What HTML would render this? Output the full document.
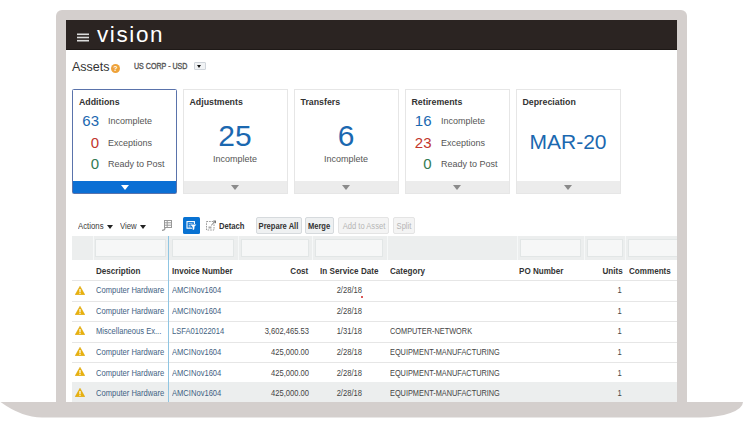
<!DOCTYPE html>
<html><head><meta charset="utf-8">
<style>
*{margin:0;padding:0;box-sizing:border-box}
html,body{width:743px;height:427px;overflow:hidden;background:#fff}
body{position:relative;font-family:"Liberation Sans",sans-serif;color:#444}
.a{position:absolute;white-space:nowrap}
#frame{position:absolute;left:56px;top:10px;width:631px;height:393px;background:#d4cfcd;border-radius:6px 6px 0 0}
#screen{position:absolute;left:66px;top:20px;width:611px;height:382px;background:#fff;overflow:hidden}
#hdr{position:absolute;left:0;top:0;width:611px;height:30px;background:#2b2422;border-bottom:1px solid #1e1917}
.card{position:absolute;top:69px;width:105px;height:105px;border:1px solid #e6e6e6;background:#fff}
.card .bar{position:absolute;left:0;right:0;bottom:0;height:12px;background:#ececec}
.card .tri{position:absolute;left:50%;bottom:3px;margin-left:-4px;width:0;height:0;border-left:4px solid transparent;border-right:4px solid transparent;border-top:5px solid #8a8a8a}
.card.sel{border-color:#5a73ab;border-radius:1.5px}
.card.sel .bar{background:#0b6fd4}
.card.sel .tri{border-top-color:#fff}
.ct{position:absolute;left:6px;top:7px;font-weight:bold;font-size:8.8px;color:#333}
.bn{position:absolute;font-size:15px;text-align:right}
.bl{position:absolute;font-size:9px;color:#555;margin-top:1px}
.blue{color:#1b68b0}.red{color:#c2362c}.green{color:#337a52}
.th{position:absolute;top:245.8px;font-weight:bold;font-size:8.7px;color:#333;line-height:10px;transform:scaleX(0.93);transform-origin:0 0}
.th.r{transform-origin:100% 0}
.td{position:absolute;font-size:8.4px;color:#444;line-height:10px;white-space:nowrap}
.L{transform:scaleX(0.905);transform-origin:0 0}
.R{transform:scaleX(0.905);transform-origin:100% 0}
.cat{font-size:8.6px;transform:scaleX(0.855)}
.dsc{color:#3f6283}
.btn{position:absolute;top:197px;height:17px;border:1px solid #d6dadd;background:#eff1f2;border-radius:2px;font-size:8.2px;font-weight:bold;color:#333;text-align:center;line-height:16px}
.btn span{display:inline-block;transform:scaleX(0.925);position:relative;top:0.8px}
.btn.dis{color:#b5b5b5;background:#f4f4f4;border-color:#e4e4e4;font-weight:normal}
.fi{position:absolute;top:219px;height:18px;background:#f6f7f7;border:1px solid #e2e6e6}
.hl{position:absolute;left:6px;width:605px;height:1px;background:#e6e6e6}
</style></head><body>
<div id="frame"></div>
<svg class="a" style="left:0;top:0" width="743" height="427"><path d="M0.5,402 L743,402 A43,15.5 0 0 1 700,417.5 L42,417.5 Q22,417.5 0.5,402 Z" fill="#d4cfcd"/></svg>
<div id="screen">
  <div id="hdr">
    <svg class="a" style="left:11px;top:12.5px" width="12" height="9"><rect x="0" y="0.5" width="12" height="1.6" fill="#ddd"/><rect x="0" y="3.7" width="12" height="1.6" fill="#ddd"/><rect x="0" y="6.9" width="12" height="1.6" fill="#ddd"/></svg>
    <div class="a" style="left:31px;top:1.5px;font-size:22.5px;letter-spacing:1.6px;color:#fff;line-height:26px">vision</div>
  </div>
  <div class="a" style="left:6px;top:38.5px;font-size:12.5px;color:#333;line-height:16px">Assets</div>
  <div class="a" style="left:44.7px;top:44.2px;width:9.3px;height:9.3px;border-radius:50%;background:#eea23a;color:#fff;font-size:7px;font-weight:bold;text-align:center;line-height:9.5px">?</div>
  <div class="a" style="left:67.5px;top:41.3px;font-size:8.3px;font-weight:normal;-webkit-text-stroke:0.35px #555;color:#555;line-height:10px;transform:scaleX(0.855);transform-origin:0 0">US CORP - USD</div>
  <div class="a" style="left:127.5px;top:41.5px;width:12px;height:8.5px;border:1px solid #cfd4da;background:#f1f3f5;border-radius:1px"><div style="position:absolute;left:2.5px;top:2px;width:0;height:0;border-left:2.5px solid transparent;border-right:2.5px solid transparent;border-top:3.5px solid #111"></div></div>

  <!-- cards -->
  <div class="card sel" style="left:6px">
    <div class="ct">Additions</div>
    <div class="bn blue" style="right:77px;top:22px">63</div><div class="bl" style="left:35px;top:25px">Incomplete</div>
    <div class="bn red" style="right:77px;top:44px">0</div><div class="bl" style="left:35px;top:47px">Exceptions</div>
    <div class="bn green" style="right:77px;top:65px">0</div><div class="bl" style="left:35px;top:68px">Ready to Post</div>
    <div class="bar"><div class="tri"></div></div>
  </div>
  <div class="card" style="left:116.5px">
    <div class="ct">Adjustments</div>
    <div class="a blue" style="left:0;right:0;top:29px;text-align:center;font-size:30px;line-height:34px">25</div>
    <div class="a" style="left:0;right:0;top:64px;text-align:center;font-size:9px;color:#555">Incomplete</div>
    <div class="bar"><div class="tri"></div></div>
  </div>
  <div class="card" style="left:227.5px">
    <div class="ct">Transfers</div>
    <div class="a blue" style="left:0;right:0;top:29px;text-align:center;font-size:30px;line-height:34px">6</div>
    <div class="a" style="left:0;right:0;top:64px;text-align:center;font-size:9px;color:#555">Incomplete</div>
    <div class="bar"><div class="tri"></div></div>
  </div>
  <div class="card" style="left:338.5px">
    <div class="ct">Retirements</div>
    <div class="bn blue" style="right:77px;top:22px">16</div><div class="bl" style="left:35.5px;top:25px">Incomplete</div>
    <div class="bn red" style="right:77px;top:44px">23</div><div class="bl" style="left:35.5px;top:47px">Exceptions</div>
    <div class="bn green" style="right:77px;top:65px">0</div><div class="bl" style="left:35.5px;top:68px">Ready to Post</div>
    <div class="bar"><div class="tri"></div></div>
  </div>
  <div class="card" style="left:449.5px">
    <div class="ct">Depreciation</div>
    <div class="a blue" style="left:0;right:0;top:40px;text-align:center;font-size:21px;line-height:24px">MAR-20</div>
    <div class="bar"><div class="tri"></div></div>
  </div>

  <!-- toolbar -->
  <div class="a" style="left:12px;top:200.6px;font-size:8.4px;color:#3a3a3a;line-height:10px;transform:scaleX(0.93);transform-origin:0 0">Actions</div>
  <div class="a" style="left:41px;top:205px;width:0;height:0;border-left:3px solid transparent;border-right:3px solid transparent;border-top:4px solid #222"></div>
  <div class="a" style="left:54px;top:200.6px;font-size:8.4px;color:#3a3a3a;line-height:10px;transform:scaleX(0.93);transform-origin:0 0">View</div>
  <div class="a" style="left:73.5px;top:205px;width:0;height:0;border-left:3px solid transparent;border-right:3px solid transparent;border-top:4px solid #222"></div>
  <svg class="a" style="left:95px;top:200px" width="11" height="11"><g fill="none" stroke="#999" stroke-width="1"><rect x="3.5" y="0.5" width="7" height="7"/><line x1="3.5" y1="2.8" x2="10.5" y2="2.8"/><line x1="3.5" y1="5.2" x2="10.5" y2="5.2"/><line x1="6.2" y1="0.5" x2="6.2" y2="7.5"/><path d="M4,8 Q4,10.3 1,10.3" stroke-width="1.2"/></g></svg>
  <svg class="a" style="left:117px;top:197px" width="17" height="17"><rect x="0" y="0" width="17" height="17" rx="1.5" fill="#0872d2"/><rect x="4" y="4.6" width="7.4" height="6.6" fill="none" stroke="#fff" stroke-width="1.1"/><path d="M5.6,6.8 H9.6 M5.6,8.6 H7.6 M5.6,10 H7.6" stroke="#fff" stroke-width="0.7" fill="none"/><path d="M6.6,7 H14.2 L11.6,10 V13.2 L9.2,13.2 V10 Z" fill="#0872d2"/><path d="M7.3,7.5 H13.4 L11.1,9.9 V12.7 L9.7,12.7 V9.9 Z" fill="#fff"/></svg>
  <svg class="a" style="left:140px;top:200px" width="11" height="11"><rect x="0.5" y="1.5" width="7.5" height="8.5" fill="none" stroke="#9a9a9a" stroke-width="1" stroke-dasharray="1.6 1"/><path d="M5.2,5.3 L9.5,1 M7.3,1 H9.5 V3.2" fill="none" stroke="#666" stroke-width="0.9"/><rect x="2.5" y="6.5" width="3" height="2" fill="#aaa"/></svg>
  <div class="a" style="left:153px;top:200.8px;font-size:8.4px;font-weight:bold;color:#333;line-height:10px;transform:scaleX(0.915);transform-origin:0 0">Detach</div>
  <div class="btn" style="left:190px;width:45.5px"><span>Prepare All</span></div>
  <div class="btn" style="left:239px;width:28.5px"><span>Merge</span></div>
  <div class="btn dis" style="left:272px;width:51px"><span>Add to Asset</span></div>
  <div class="btn dis" style="left:327px;width:22px"><span>Split</span></div>

  <!-- filter band -->
  <div class="a" style="left:6px;top:216px;width:605px;height:24px;background:#eceeee"></div>
  <div class="a" style="left:26.5px;top:216px;width:1px;height:24px;background:#f6f8f8"></div>
  <div class="a" style="left:171.5px;top:216px;width:1px;height:24px;background:#f6f8f8"></div>
  <div class="a" style="left:245.5px;top:216px;width:1px;height:24px;background:#f6f8f8"></div>
  <div class="a" style="left:320.5px;top:216px;width:1px;height:24px;background:#f6f8f8"></div>
  <div class="a" style="left:450.5px;top:216px;width:1px;height:24px;background:#f6f8f8"></div>
  <div class="a" style="left:518.0px;top:216px;width:1px;height:24px;background:#f6f8f8"></div>
  <div class="a" style="left:559.0px;top:216px;width:1px;height:24px;background:#f6f8f8"></div>
  <div class="fi" style="left:28.5px;width:71.5px"></div>
  <div class="fi" style="left:106.0px;width:62.0px"></div>
  <div class="fi" style="left:175.0px;width:67.5px"></div>
  <div class="fi" style="left:249.0px;width:68.0px"></div>
  <div class="fi" style="left:453.5px;width:61.5px"></div>
  <div class="fi" style="left:520.5px;width:36.0px"></div>
  <div class="fi" style="left:562.0px;width:62.0px"></div>
  <!-- header -->
  <div class="th" style="left:29.5px">Description</div>
  <div class="th" style="left:106.2px">Invoice Number</div>
  <div class="th r" style="right:368.6px">Cost</div>
  <div class="th" style="left:253.7px;letter-spacing:0.05px">In Service Date</div>
  <div class="th" style="left:323.5px">Category</div>
  <div class="th" style="left:453.2px">PO Number</div>
  <div class="th r" style="right:54.6px">Units</div>
  <div class="th" style="left:562.7px">Comments</div>

  <div class="hl" style="top:260px"></div>
  <div class="hl" style="top:280.5px"></div>
  <div class="hl" style="top:301px"></div>
  <div class="hl" style="top:321.5px"></div>
  <div class="hl" style="top:342px"></div>
  <div class="a" style="left:6px;top:362px;width:605px;height:20px;background:#eceeee"></div>
  <!-- rows -->
  <svg class="a" style="left:9px;top:265.5px" width="10" height="9"><path d="M5,0.3 L9.8,8.7 L0.2,8.7 Z" fill="#e9b10c" stroke="#d9a000" stroke-width="0.5" stroke-linejoin="round"/><rect x="4.4" y="3" width="1.2" height="3.2" fill="#fff"/><rect x="4.4" y="6.8" width="1.2" height="1.1" fill="#fff"/></svg>
  <div class="td dsc L" style="left:29.5px;top:265.3px">Computer Hardware</div>
  <div class="td dsc L" style="left:106.2px;top:265.3px">AMCINov1604</div>
  <div class="td R" style="right:315px;top:265.3px">2/28/18</div>
  <div class="td R" style="right:55px;top:265.3px">1</div>
  <div class="a" style="left:295px;top:276.2px;width:2px;height:2px;background:#d02020;border-radius:50%"></div>
  <svg class="a" style="left:9px;top:285.9px" width="10" height="9"><path d="M5,0.3 L9.8,8.7 L0.2,8.7 Z" fill="#e9b10c" stroke="#d9a000" stroke-width="0.5" stroke-linejoin="round"/><rect x="4.4" y="3" width="1.2" height="3.2" fill="#fff"/><rect x="4.4" y="6.8" width="1.2" height="1.1" fill="#fff"/></svg>
  <div class="td dsc L" style="left:29.5px;top:285.9px">Computer Hardware</div>
  <div class="td dsc L" style="left:106.2px;top:285.9px">AMCINov1604</div>
  <div class="td R" style="right:315px;top:285.9px">2/28/18</div>
  <div class="td R" style="right:55px;top:285.9px">1</div>
  <svg class="a" style="left:9px;top:306.3px" width="10" height="9"><path d="M5,0.3 L9.8,8.7 L0.2,8.7 Z" fill="#e9b10c" stroke="#d9a000" stroke-width="0.5" stroke-linejoin="round"/><rect x="4.4" y="3" width="1.2" height="3.2" fill="#fff"/><rect x="4.4" y="6.8" width="1.2" height="1.1" fill="#fff"/></svg>
  <div class="td dsc L" style="left:29.5px;top:306.4px">Miscellaneous Ex...</div>
  <div class="td dsc L" style="left:106.2px;top:306.4px">LSFA01022014</div>
  <div class="td R" style="right:368.5px;top:306.4px">3,602,465.53</div>
  <div class="td R" style="right:315px;top:306.4px">1/31/18</div>
  <div class="td L cat" style="left:323.5px;top:306.4px">COMPUTER-NETWORK</div>
  <div class="td R" style="right:55px;top:306.4px">1</div>
  <svg class="a" style="left:9px;top:326.7px" width="10" height="9"><path d="M5,0.3 L9.8,8.7 L0.2,8.7 Z" fill="#e9b10c" stroke="#d9a000" stroke-width="0.5" stroke-linejoin="round"/><rect x="4.4" y="3" width="1.2" height="3.2" fill="#fff"/><rect x="4.4" y="6.8" width="1.2" height="1.1" fill="#fff"/></svg>
  <div class="td dsc L" style="left:29.5px;top:326.9px">Computer Hardware</div>
  <div class="td dsc L" style="left:106.2px;top:326.9px">AMCINov1604</div>
  <div class="td R" style="right:368.5px;top:326.9px">425,000.00</div>
  <div class="td R" style="right:315px;top:326.9px">2/28/18</div>
  <div class="td L cat" style="left:323.5px;top:326.9px">EQUIPMENT-MANUFACTURING</div>
  <div class="td R" style="right:55px;top:326.9px">1</div>
  <svg class="a" style="left:9px;top:347.1px" width="10" height="9"><path d="M5,0.3 L9.8,8.7 L0.2,8.7 Z" fill="#e9b10c" stroke="#d9a000" stroke-width="0.5" stroke-linejoin="round"/><rect x="4.4" y="3" width="1.2" height="3.2" fill="#fff"/><rect x="4.4" y="6.8" width="1.2" height="1.1" fill="#fff"/></svg>
  <div class="td dsc L" style="left:29.5px;top:347.5px">Computer Hardware</div>
  <div class="td dsc L" style="left:106.2px;top:347.5px">AMCINov1604</div>
  <div class="td R" style="right:368.5px;top:347.5px">425,000.00</div>
  <div class="td R" style="right:315px;top:347.5px">2/28/18</div>
  <div class="td L cat" style="left:323.5px;top:347.5px">EQUIPMENT-MANUFACTURING</div>
  <div class="td R" style="right:55px;top:347.5px">1</div>
  <svg class="a" style="left:9px;top:367.5px" width="10" height="9"><path d="M5,0.3 L9.8,8.7 L0.2,8.7 Z" fill="#e9b10c" stroke="#d9a000" stroke-width="0.5" stroke-linejoin="round"/><rect x="4.4" y="3" width="1.2" height="3.2" fill="#fff"/><rect x="4.4" y="6.8" width="1.2" height="1.1" fill="#fff"/></svg>
  <div class="td dsc L" style="left:29.5px;top:368.1px">Computer Hardware</div>
  <div class="td dsc L" style="left:106.2px;top:368.1px">AMCINov1604</div>
  <div class="td R" style="right:368.5px;top:368.1px">425,000.00</div>
  <div class="td R" style="right:315px;top:368.1px">2/28/18</div>
  <div class="td L cat" style="left:323.5px;top:368.1px">EQUIPMENT-MANUFACTURING</div>
  <div class="td R" style="right:55px;top:368.1px">1</div>
  <!-- /rows -->
  <div class="a" style="left:102px;top:216px;width:1px;height:166px;background:#8fc5e2"></div>
</div>
</body></html>
